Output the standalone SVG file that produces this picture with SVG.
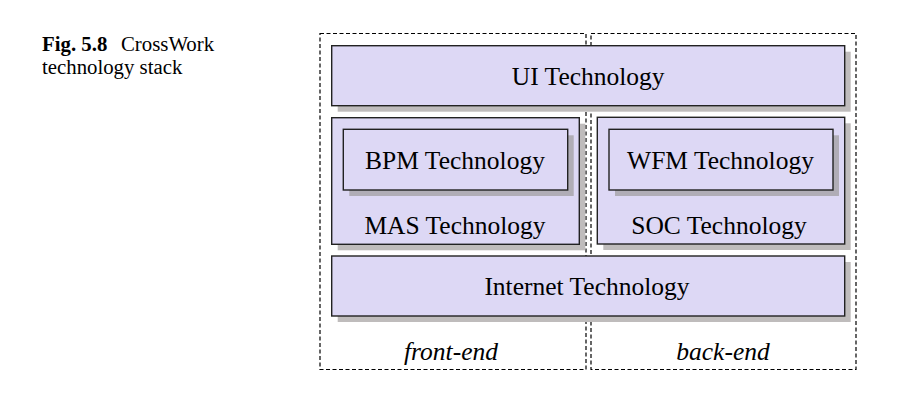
<svg xmlns="http://www.w3.org/2000/svg" width="913" height="415" viewBox="0 0 913 415">
<style>
.dash{fill:none;stroke:#000;stroke-width:1.2;stroke-dasharray:4,2.5}
.box{fill:#ddd8f5;stroke:#222;stroke-width:1.4}
.sh{fill:#bfbcbc}
.shi{fill:#b0adb6}
.t{font-family:"Liberation Serif","Times New Roman",serif;font-size:25.5px;fill:#000;text-anchor:middle}
.it{font-style:italic}
.cap{font-family:"Liberation Serif","Times New Roman",serif;font-size:20.8px;fill:#000}
</style>
<rect width="913" height="415" fill="#fff"/>
<g id="caption">
<text class="cap" x="42" y="50.5"><tspan font-weight="bold">Fig. 5.8</tspan><tspan x="121">CrossWork</tspan></text>
<text class="cap" x="42" y="74">technology stack</text>
</g>
<g id="regions">
<rect class="dash" x="320" y="33.5" width="266" height="336"/>
<rect class="dash" x="591" y="33.5" width="265" height="336"/>
<text class="t it" x="451" y="359.5">front-end</text>
<text class="t it" x="723" y="359.5">back-end</text>
</g>
<g id="ui">
<rect class="sh" x="337.7" y="51.7" width="513" height="60"/>
<rect class="box" x="331.7" y="45.7" width="513" height="60"/>
<text class="t" x="588.2" y="84.5">UI Technology</text>
</g>
<g id="mas">
<rect class="sh" x="337.7" y="123.7" width="247.6" height="126.6"/>
<rect class="box" x="331.7" y="117.7" width="247.6" height="126.6"/>
<text class="t" x="455" y="233.5">MAS Technology</text>
</g>
<g id="bpm">
<rect class="shi" x="349.3" y="135.3" width="224.4" height="60.7"/>
<rect class="box" x="343.3" y="129.3" width="224.4" height="60.7"/>
<text class="t" x="455" y="168.5">BPM Technology</text>
</g>
<g id="soc">
<rect class="sh" x="603.3" y="123.3" width="247.4" height="126.7"/>
<rect class="box" x="597.3" y="117.3" width="247.4" height="126.7"/>
<text class="t" x="719" y="233.5">SOC Technology</text>
</g>
<g id="wfm">
<rect class="shi" x="615" y="135.3" width="224" height="60.7"/>
<rect class="box" x="609" y="129.3" width="224" height="60.7"/>
<text class="t" x="720.5" y="168.5">WFM Technology</text>
</g>
<g id="internet">
<rect class="sh" x="337.7" y="262" width="513" height="60"/>
<rect class="box" x="331.7" y="256" width="513" height="60"/>
<text class="t" x="587" y="294.5">Internet Technology</text>
</g>
<g id="connectors"></g>
</svg>
